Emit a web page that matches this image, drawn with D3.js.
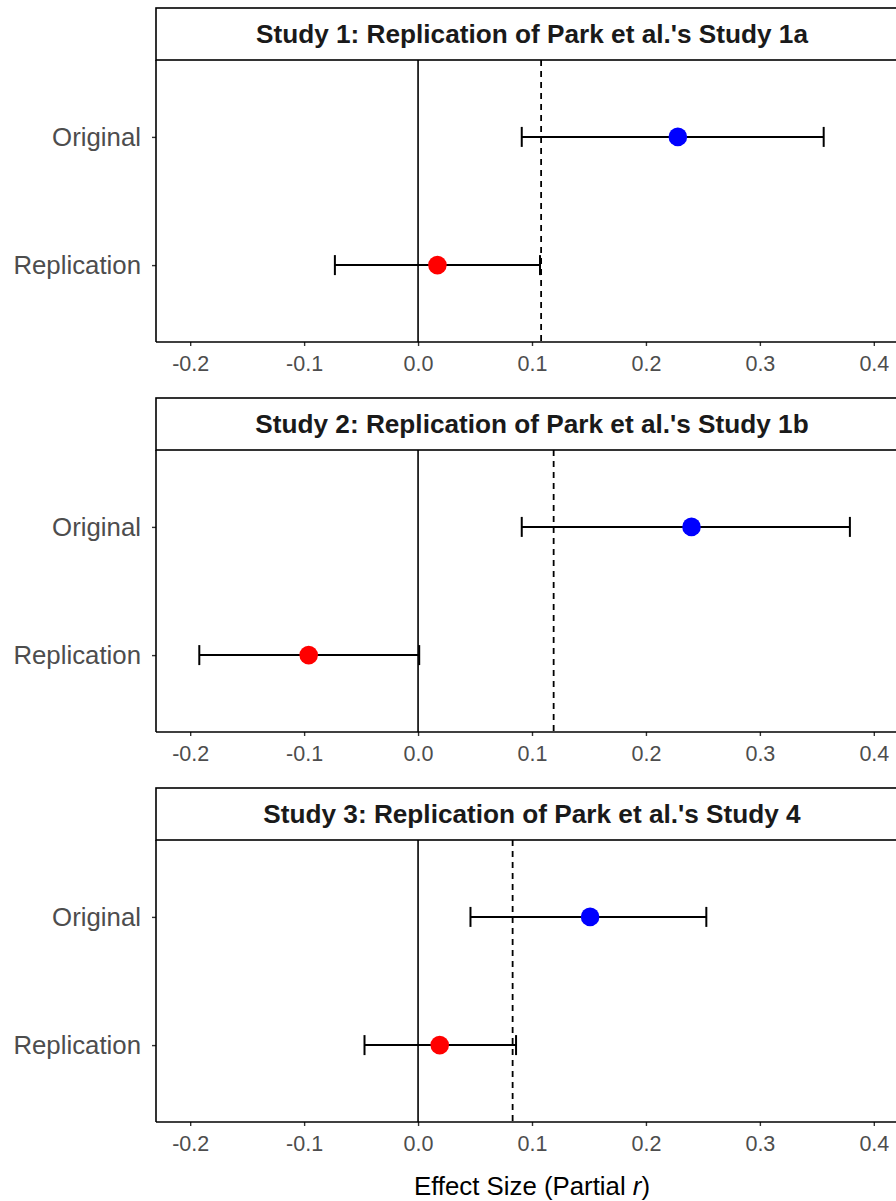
<!DOCTYPE html>
<html>
<head>
<meta charset="utf-8">
<script src="https://cdn.jsdelivr.net/npm/d3@7"></script>
<style>
  html, body { margin: 0; padding: 0; background: #fff; }
  svg { display: block; }
</style>
</head>
<body>
<svg id="chart" width="896" height="1201"></svg>
<script>
// ---- data ----
const panelTitles = [
  "Study 1: Replication of Park et al.'s Study 1a",
  "Study 2: Replication of Park et al.'s Study 1b",
  "Study 3: Replication of Park et al.'s Study 4"
];
const categories = ["Original", "Replication"];
const pointColors = ["#0000FF", "#FF0000"];
// estimates per panel: [Original, Replication]
const estimates = [
  [0.228, 0.017],
  [0.240, -0.096],
  [0.151, 0.019]
];
const lowerCI = [
  [0.091, -0.073],
  [0.091, -0.192],
  [0.046, -0.047]
];
const upperCI = [
  [0.356, 0.107],
  [0.379, 0.001],
  [0.253, 0.086]
];
// dashed reference line per panel
const refLine = [0.108, 0.119, 0.083];
const xTicks = [-0.2, -0.1, 0.0, 0.1, 0.2, 0.3, 0.4];
const xTitle = "Effect Size (Partial ";
const xTitleItalic = "r";

// ---- layout ----
const svg = d3.select("#chart");
const left = 156, right = 908;
const panelStep = 390;
const stripTop = 8, stripH = 52, plotH = 282;
const font = "'Liberation Sans', Arial, Helvetica, sans-serif";

const x = d3.scaleLinear().domain([-0.23, 0.43]).range([left, right]);
const fmt = d => d3.format(".1f")(d).replace("\u2212", "-");

panelTitles.forEach((title, i) => {
  const g = svg.append("g").attr("transform", `translate(0,${i * panelStep})`);
  const top = stripTop + stripH, bottom = top + plotH;
  const y = d3.scalePoint().domain(categories).range([top, bottom]).padding(0.6);

  // strip
  g.append("rect").attr("x", left).attr("y", stripTop)
    .attr("width", right - left).attr("height", stripH)
    .attr("fill", "#fff").attr("stroke", "#000").attr("stroke-width", 1.6);
  g.append("text").attr("x", (left + right) / 2).attr("y", stripTop + stripH / 2)
    .attr("dy", "0.36em").attr("text-anchor", "middle")
    .attr("font-family", font).attr("font-weight", "bold").attr("font-size", 26.2)
    .attr("fill", "#1a1a1a").text(title);

  // reference lines
  g.append("line").attr("x1", x(0)).attr("x2", x(0)).attr("y1", top).attr("y2", bottom)
    .attr("stroke", "#000").attr("stroke-width", 1.6);
  g.append("line").attr("x1", x(refLine[i])).attr("x2", x(refLine[i])).attr("y1", top).attr("y2", bottom)
    .attr("stroke", "#000").attr("stroke-width", 1.8).attr("stroke-dasharray", "6,5");

  // axes
  const xAxis = d3.axisBottom(x).tickValues(xTicks).tickFormat(fmt).tickSize(4).tickPadding(10);
  const xa = g.append("g").attr("transform", `translate(0,${bottom})`).call(xAxis);
  xa.select(".domain").remove();
  xa.selectAll(".tick line").attr("stroke", "#333").attr("stroke-width", 1.4);
  xa.selectAll(".tick text").attr("font-family", font).attr("font-size", 21.5).attr("fill", "#4d4d4d");
  g.append("line").attr("x1", left).attr("x2", right).attr("y1", bottom).attr("y2", bottom)
    .attr("stroke", "#000").attr("stroke-width", 1.6);

  const yAxis = d3.axisLeft(y).tickSize(4).tickPadding(11);
  const ya = g.append("g").attr("transform", `translate(${left},0)`).call(yAxis);
  ya.select(".domain").remove();
  ya.selectAll(".tick line").attr("stroke", "#333").attr("stroke-width", 1.4);
  ya.selectAll(".tick text").attr("font-family", font).attr("font-size", 25.8).attr("fill", "#4d4d4d");
  g.append("line").attr("x1", left).attr("x2", left).attr("y1", top).attr("y2", bottom)
    .attr("stroke", "#000").attr("stroke-width", 1.6);

  // error bars
  const rows = categories.map((c, j) => ({
    cat: c, est: estimates[i][j], lo: lowerCI[i][j], hi: upperCI[i][j], color: pointColors[j]
  }));
  const eb = g.append("g").attr("stroke", "#000").attr("stroke-width", 2);
  rows.forEach(r => {
    const cy = y(r.cat);
    eb.append("line").attr("x1", x(r.lo)).attr("x2", x(r.hi)).attr("y1", cy).attr("y2", cy);
    eb.append("line").attr("x1", x(r.lo)).attr("x2", x(r.lo)).attr("y1", cy - 10).attr("y2", cy + 10);
    eb.append("line").attr("x1", x(r.hi)).attr("x2", x(r.hi)).attr("y1", cy - 10).attr("y2", cy + 10);
  });
  g.selectAll("circle.pt").data(rows).enter().append("circle")
    .attr("class", "pt").attr("cx", d => x(d.est)).attr("cy", d => y(d.cat))
    .attr("r", 9.3).attr("fill", d => d.color);
});

// x-axis title
const t = svg.append("text").attr("x", (left + right) / 2).attr("y", 1195)
  .attr("text-anchor", "middle").attr("font-family", font).attr("font-size", 25.8).attr("fill", "#000");
t.append("tspan").text(xTitle);
t.append("tspan").attr("font-style", "italic").text(xTitleItalic);
t.append("tspan").text(")");
</script>
</body>
</html>
